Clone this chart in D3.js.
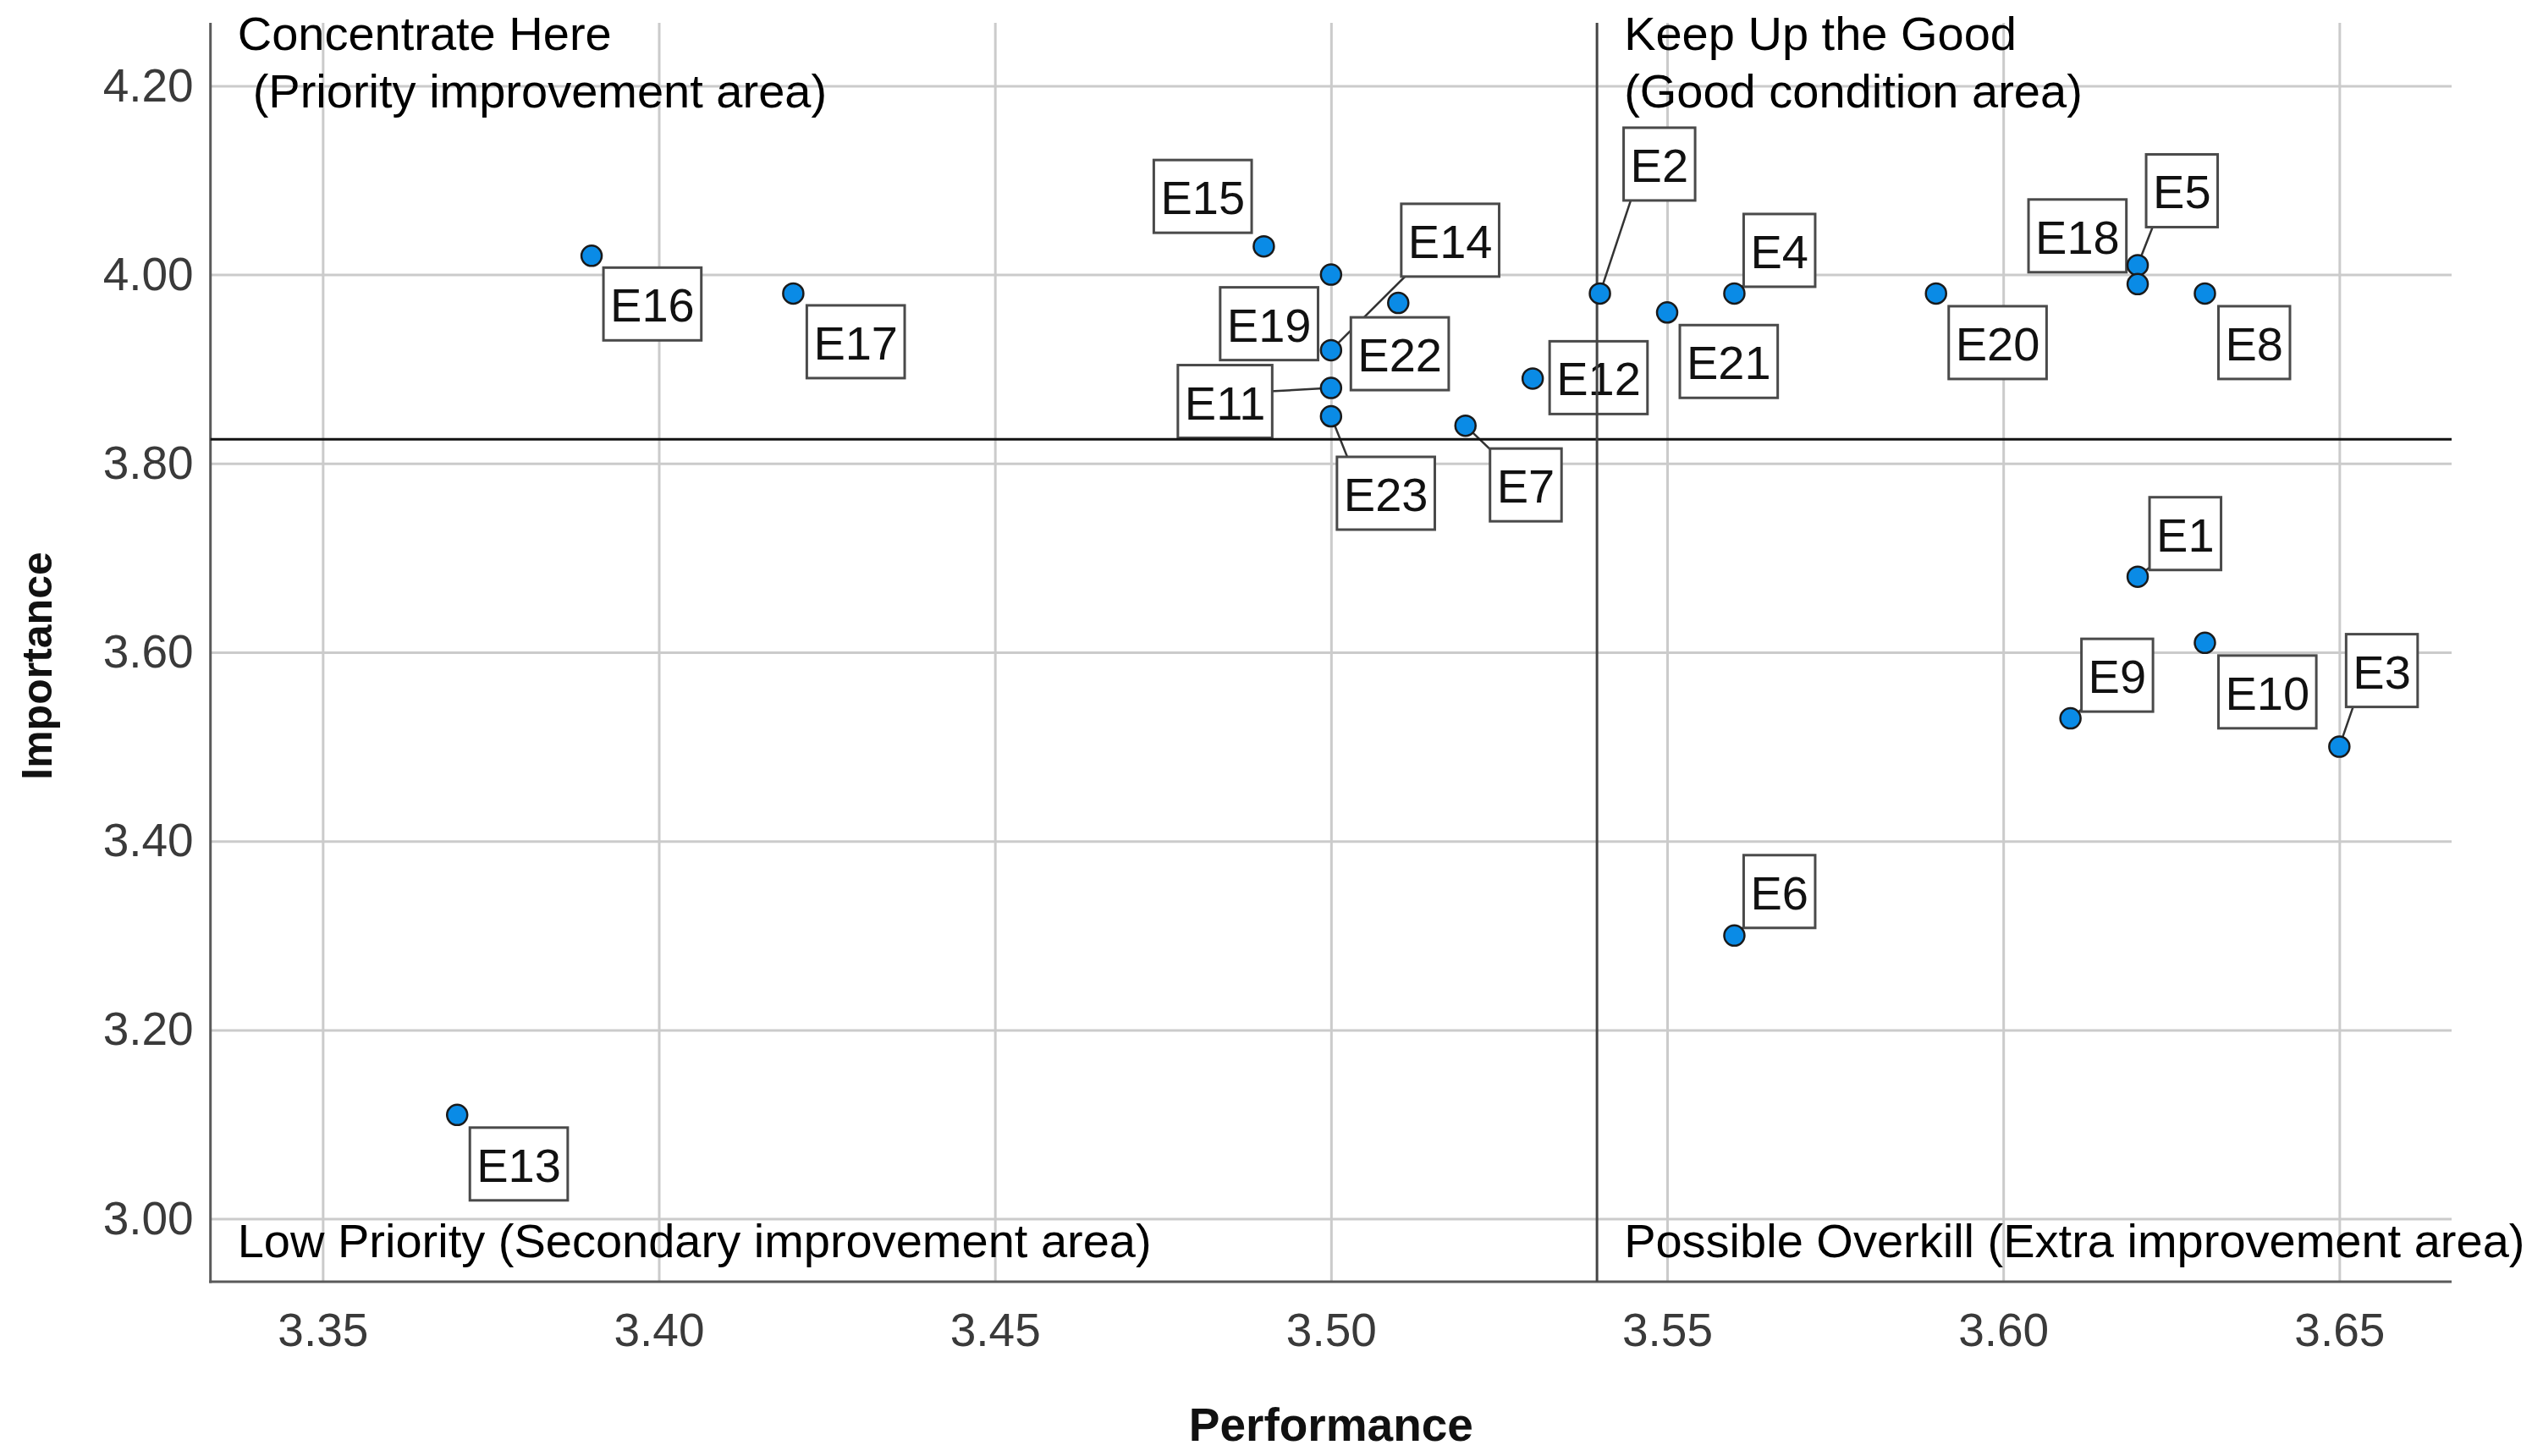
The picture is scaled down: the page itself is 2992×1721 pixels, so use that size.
<!DOCTYPE html>
<html>
<head>
<meta charset="utf-8">
<script src="https://cdn.jsdelivr.net/npm/d3@7"></script>
<style>
html,body{margin:0;padding:0;background:#ffffff;}
svg{display:block;}
</style>
</head>
<body>
<svg id="chart" width="2992" height="1721"></svg>
<script>
// ---------------- data ----------------
const itemLabels = ["E1","E2","E3","E4","E5","E6","E7","E8","E9","E10","E11","E12",
                    "E13","E14","E15","E16","E17","E18","E19","E20","E21","E22","E23"];
const performance = [3.62,3.54,3.65,3.56,3.62,3.56,3.52,3.63,3.61,3.63,3.50,3.53,
                     3.37,3.50,3.49,3.39,3.42,3.62,3.50,3.59,3.55,3.51,3.50];
const importance  = [3.68,3.98,3.50,3.98,4.01,3.30,3.84,3.98,3.53,3.61,3.88,3.89,
                     3.11,3.92,4.03,4.02,3.98,3.99,4.00,3.98,3.96,3.97,3.85];
const xTickValues = [3.35,3.40,3.45,3.50,3.55,3.60,3.65];
const yTickValues = [3.00,3.20,3.40,3.60,3.80,4.00,4.20];
const xDomain = [3.3333,3.6667];
const yDomain = [2.9333,4.2667];
const xAxisTitle = "Performance";
const yAxisTitle = "Importance";
const topLeftTitle = ["Concentrate Here","(Priority improvement area)"];
const topRightTitle = ["Keep Up the Good","(Good condition area)"];
const bottomLeftTitle = "Low Priority (Secondary improvement area)";
const bottomRightTitle = "Possible Overkill (Extra improvement area)";

// ---------------- layout (label box offsets from point, px; which labels get leader lines) ----------------
const labelOffsets = [
  [14,-94],[28,-196],[8,-133],[11,-94],[10,-131],[11,-95],[29,27],[16,15],
  [13,-94],[16,15],[-181,-27],[20,-44],[15,15],[83,-173],[-130,-102],[14,14],
  [16,14],[-129,-100],[-131,15],[15,15],[15,15],[-56,17],[7,48]
];
const leaderLabels = ["E1","E2","E3","E4","E5","E6","E7","E9","E11","E14","E23"];

const W = 2992, H = 1721;
const plot = {left: 248.7, right: 2897, top: 27, bottom: 1515};
const FONT = "'Liberation Sans', Arial, Helvetica, sans-serif";

const svg = d3.select("#chart");
svg.append("rect").attr("width", W).attr("height", H).attr("fill", "#fff");

const x = d3.scaleLinear().domain(xDomain).range([plot.left, plot.right]);
const y = d3.scaleLinear().domain(yDomain).range([plot.bottom, plot.top]);

// gridlines + tick labels via axes
const xAxis = d3.axisBottom(x).tickValues(xTickValues).tickFormat(d3.format(".2f"))
  .tickSizeInner(-(plot.bottom - plot.top)).tickSizeOuter(0).tickPadding(37);
const yAxis = d3.axisLeft(y).tickValues(yTickValues).tickFormat(d3.format(".2f"))
  .tickSizeInner(-(plot.right - plot.left)).tickSizeOuter(0).tickPadding(20);

const gx = svg.append("g").attr("transform", `translate(0,${plot.bottom})`).call(xAxis);
const gy = svg.append("g").attr("transform", `translate(${plot.left},0)`).call(yAxis);
[gx, gy].forEach(g => {
  g.select(".domain").remove();
  g.selectAll(".tick line").attr("stroke", "#cbcbcb").attr("stroke-width", 3);
  g.selectAll(".tick text").attr("fill", "#3a3a3a").style("font-family", FONT).style("font-size", "55px");
});

// axis lines
svg.append("line").attr("x1", plot.left).attr("x2", plot.left)
  .attr("y1", plot.top).attr("y2", plot.bottom + 1.5)
  .attr("stroke", "#5a5a5a").attr("stroke-width", 3);
svg.append("line").attr("x1", plot.left - 1.5).attr("x2", plot.right)
  .attr("y1", plot.bottom).attr("y2", plot.bottom)
  .attr("stroke", "#5a5a5a").attr("stroke-width", 3);

// axis titles
svg.append("text").attr("x", (plot.left + plot.right) / 2).attr("y", 1703)
  .attr("text-anchor", "middle").style("font-family", FONT).style("font-size", "55px")
  .style("font-weight", "bold").attr("fill", "#111").text(xAxisTitle);
svg.append("text").attr("transform", `translate(61,787) rotate(-90)`)
  .attr("text-anchor", "middle").style("font-family", FONT).style("font-size", "50px")
  .style("font-weight", "bold").attr("fill", "#111").text(yAxisTitle);

const points = itemLabels.map((name, i) => ({
  name, px: performance[i], py: importance[i], off: labelOffsets[i]
}));
const meanX = d3.mean(performance);
const meanY = d3.mean(importance);

// label geometry
const measure = svg.append("text").style("font-family", FONT).style("font-size", "56px");
const BOX_H = 86, PAD = 8;
points.forEach(p => {
  measure.text(p.name);
  const tw = measure.node().getComputedTextLength();
  p.cx = x(p.px); p.cy = y(p.py);
  p.bx = p.cx + p.off[0]; p.by = p.cy + p.off[1];
  p.bw = tw + 2 * PAD; p.bh = BOX_H;
  // nearest point of box, nudged a little toward box centre
  const nx = Math.max(p.bx, Math.min(p.cx, p.bx + p.bw));
  const ny = Math.max(p.by, Math.min(p.cy, p.by + p.bh));
  p.tx = nx + 0.3 * (p.bx + p.bw / 2 - nx);
  p.ty = ny + 0.3 * (p.by + p.bh / 2 - ny);
});
measure.remove();

// leaders (drawn beneath boxes)
svg.append("g").selectAll("line").data(points.filter(p => leaderLabels.includes(p.name))).join("line")
  .attr("x1", d => d.cx).attr("y1", d => d.cy)
  .attr("x2", d => d.tx).attr("y2", d => d.ty)
  .attr("stroke", "#333").attr("stroke-width", 2.5);

// label boxes
const lg = svg.append("g").selectAll("g").data(points).join("g");
lg.append("rect").attr("x", d => d.bx).attr("y", d => d.by)
  .attr("width", d => d.bw).attr("height", d => d.bh)
  .attr("fill", "#ffffff").attr("stroke", "#4a4a4a").attr("stroke-width", 3);
lg.append("text").attr("x", d => d.bx + d.bw / 2).attr("y", d => d.by + d.bh - 22)
  .attr("text-anchor", "middle").style("font-family", FONT).style("font-size", "56px")
  .attr("fill", "#111").text(d => d.name);

// quadrant titles
const qt = svg.append("g").style("font-family", FONT).style("font-size", "56px").attr("fill", "#000");
const leftX = plot.left + 32, rightX = x(meanX) + 32;
qt.append("text").attr("x", leftX).attr("y", 59).text(topLeftTitle[0]);
qt.append("text").attr("x", leftX + 18).attr("y", 127).text(topLeftTitle[1]);
qt.append("text").attr("x", rightX).attr("y", 59).text(topRightTitle[0]);
qt.append("text").attr("x", rightX).attr("y", 127).text(topRightTitle[1]);
qt.append("text").attr("x", leftX).attr("y", 1486).text(bottomLeftTitle);
qt.append("text").attr("x", rightX).attr("y", 1486).text(bottomRightTitle);

// reference (mean) lines
svg.append("line").attr("x1", plot.left).attr("x2", plot.right)
  .attr("y1", y(meanY)).attr("y2", y(meanY))
  .attr("stroke", "#111").attr("stroke-width", 3);
svg.append("line").attr("x1", x(meanX)).attr("x2", x(meanX))
  .attr("y1", plot.top).attr("y2", plot.bottom)
  .attr("stroke", "#444").attr("stroke-width", 3);

// points
svg.append("g").selectAll("circle").data(points).join("circle")
  .attr("cx", d => d.cx).attr("cy", d => d.cy).attr("r", 12)
  .attr("fill", "#0a8be6").attr("stroke", "#1a1a1a").attr("stroke-width", 2.5);
</script>
</body>
</html>
